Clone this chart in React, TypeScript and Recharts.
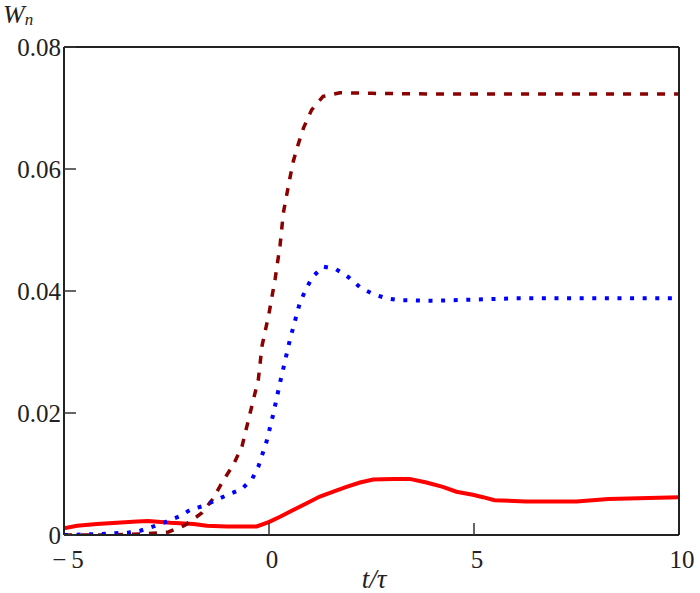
import { Line, LineChart, XAxis, YAxis } from "recharts";

// dashed dark-red curve
const dashT = [-5, -4.5, -4, -3.5, -3, -2.45, -2.05, -1.64, -1.36, -1.11, -0.87, -0.66, -0.46, -0.26, -0.17, 0, 0.15, 0.27, 0.35, 0.43, 0.51, 0.59, 0.71, 0.84, 1.04, 1.32, 1.73, 2.5, 4, 6, 8, 10];
const dashW = [0, 0, 0, 0.0001, 0.0002, 0.0005, 0.0016, 0.0036, 0.006, 0.009, 0.0115, 0.0145, 0.02, 0.0255, 0.031, 0.0363, 0.042, 0.0475, 0.0528, 0.0557, 0.0585, 0.0612, 0.064, 0.0667, 0.0697, 0.0719, 0.0725, 0.0724, 0.0723, 0.0723, 0.0723, 0.0723];

// dotted blue curve
const dotT = [-5, -4.5, -4, -3.42, -3.14, -2.82, -2.5, -2.2, -1.9, -1.58, -1.27, -0.97, -0.67, -0.41, -0.26, -0.06, 0.1, 0.27, 0.51, 0.75, 0.88, 1.06, 1.32, 1.63, 1.93, 2.24, 2.54, 2.87, 3.17, 4, 5, 6, 8, 10];
const dotW = [0, 0.0001, 0.0002, 0.0004, 0.0007, 0.0014, 0.0022, 0.003, 0.0042, 0.0048, 0.0058, 0.0067, 0.0075, 0.0092, 0.0112, 0.0153, 0.0197, 0.025, 0.032, 0.038, 0.04, 0.0423, 0.044, 0.0436, 0.0423, 0.0405, 0.0395, 0.0388, 0.0385, 0.0384, 0.0386, 0.0388, 0.0388, 0.0388];

// solid red curve
const solidT = [-5, -4.68, -4.2, -3.71, -3.22, -2.94, -2.41, -1.84, -1.52, -1.03, -0.3, -0.14, 0.02, 0.27, 0.59, 0.92, 1.24, 1.57, 1.89, 2.22, 2.54, 3.03, 3.43, 3.84, 4.24, 4.57, 4.97, 5.22, 5.5, 6.27, 7.5, 8.28, 10];
const solidW = [0.0011, 0.0015, 0.0018, 0.002, 0.0022, 0.0023, 0.002, 0.0018, 0.0015, 0.0014, 0.0014, 0.0018, 0.0022, 0.003, 0.0041, 0.0052, 0.0063, 0.0071, 0.0079, 0.0086, 0.0091, 0.0092, 0.0092, 0.0086, 0.0079, 0.0071, 0.0066, 0.0062, 0.0057, 0.0055, 0.0055, 0.0059, 0.0062];

const xTicks = [-5, 0, 5, 10];
const yTicks = [0, 0.02, 0.04, 0.06, 0.08];

const zip = (t: number[], w: number[]) => t.map((x, i) => ({ t: x, w: w[i] }));

const serif = "'Liberation Serif', 'Times New Roman', serif";
const axisLine = { stroke: "#222", strokeWidth: 2 };
const tickLine = { stroke: "#333", strokeWidth: 1.5 };
const tickStyle = { fill: "#222", fontSize: 25, fontFamily: serif };

const fmtX = (v: number) => (v < 0 ? `\u2212\u2009${Math.abs(v)}` : `${v}`);
const fmtY = (v: number) => (v === 0 ? "0" : v.toFixed(2));

// Mathcad puts the x numbers a touch right of their ticks
const XTick = (props: any) => {
  const { x, y, payload } = props;
  const v = payload.value as number;
  return (
    <text x={x + (v < 0 ? 4 : 3)} y={y} dy="0.71em" textAnchor="middle" {...tickStyle}>
      {fmtX(v)}
    </text>
  );
};

// axes get 1px of room (0 would skip rendering); ticks point inwards
export default function App() {
  return (
    <div style={{ position: "absolute", left: 0, top: 0, width: 700, height: 593, background: "#fff" }}>
      <LineChart width={700} height={593} margin={{ top: 46, right: 20, bottom: 57, left: 63 }}>
        <XAxis
          xAxisId="b"
          dataKey="t"
          type="number"
          domain={[-5, 10]}
          ticks={xTicks}
          height={1}
          tickSize={-12}
          tickMargin={27}
          tick={XTick}
          axisLine={axisLine}
          tickLine={tickLine}
          allowDataOverflow
        />
        <XAxis
          xAxisId="top"
          orientation="top"
          type="number"
          domain={[-5, 10]}
          ticks={xTicks}
          height={1}
          tickSize={-12}
          tick={false}
          axisLine={axisLine}
          tickLine={tickLine}
        />
        <YAxis
          yAxisId="l"
          type="number"
          domain={[0, 0.08]}
          ticks={yTicks}
          width={1}
          tickSize={-12}
          tickMargin={15}
          tickFormatter={fmtY}
          tick={tickStyle}
          axisLine={axisLine}
          tickLine={tickLine}
          allowDataOverflow
        />
        <YAxis
          yAxisId="r"
          orientation="right"
          type="number"
          domain={[0, 0.08]}
          ticks={yTicks}
          width={1}
          tickSize={-12}
          tick={false}
          axisLine={axisLine}
          tickLine={tickLine}
        />
        <Line
          xAxisId="b"
          yAxisId="l"
          data={zip(solidT, solidW)}
          dataKey="w"
          stroke="#ff0000"
          strokeWidth={4}
          dot={false}
          isAnimationActive={false}
        />
        <Line
          xAxisId="b"
          yAxisId="l"
          data={zip(dashT, dashW)}
          dataKey="w"
          stroke="#8b0000"
          strokeWidth={3.5}
          strokeDasharray="8 9"
          dot={false}
          isAnimationActive={false}
        />
        <Line
          xAxisId="b"
          yAxisId="l"
          data={zip(dotT, dotW)}
          dataKey="w"
          stroke="#0000ff"
          strokeWidth={4}
          strokeDasharray="4 8.6"
          dot={false}
          isAnimationActive={false}
        />
      </LineChart>
      <svg width={700} height={593} style={{ position: "absolute", left: 0, top: 0, pointerEvents: "none" }}>
        <text x={3} y={23} fontFamily={serif} fontStyle="italic" fontSize={26} fill="#222">
          W<tspan fontSize={17} dy={2}>n</tspan>
        </text>
        <text x={374} y={588} textAnchor="middle" fontFamily={serif} fontStyle="italic" fontSize={27} fill="#222">
          t/τ
        </text>
      </svg>
    </div>
  );
}
